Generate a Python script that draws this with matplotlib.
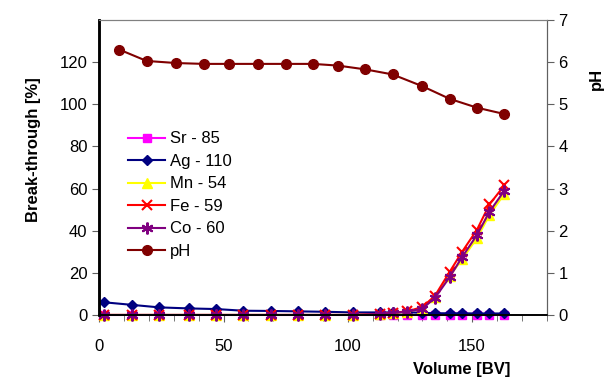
import matplotlib
matplotlib.use("Agg")
import matplotlib.pyplot as plt
from matplotlib.ticker import MultipleLocator

plt.rcParams["font.family"] = ["Liberation Sans", "DejaVu Sans"]

# volumes [BV]
volume = [2, 13, 24, 36, 47, 58, 69, 80, 91, 102, 113, 118, 124, 130, 135, 141, 146, 152, 157, 163]
sr85 = [0.0] * 20
ag110 = [6.0, 4.8, 3.6, 3.1, 2.8, 2.0, 1.9, 1.7, 1.5, 1.2, 1.2, 1.2, 1.3, 1.0, 0.8, 0.8, 0.8, 0.7, 0.7, 0.7]
mn54 = [0, 0, 0, 0, 0, 0, 0, 0, 0, 0, 0.5, 1.0, 1.5, 3.3, 8.5, 18.5, 26.5, 36.5, 47.5, 57.5]
fe59 = [0, 0, 0, 0, 0, 0, 0, 0, 0, 0, 0.5, 1.0, 1.7, 3.8, 9.0, 20.5, 30.0, 40.5, 52.5, 61.5]
co60 = [0, 0, 0, 0, 0, 0, 0, 0, 0, 0, 0.5, 1.0, 1.5, 3.0, 8.0, 18.0, 27.5, 38.0, 49.0, 59.0]

ph_volume = [8, 19, 31, 42, 52, 64, 75, 86, 96, 107, 118, 130, 141, 152, 163]
ph = [6.30, 6.03, 5.98, 5.96, 5.96, 5.96, 5.96, 5.96, 5.92, 5.83, 5.71, 5.43, 5.13, 4.92, 4.77]

fig = plt.figure(figsize=(6.06, 3.79), dpi=100)
ax = fig.add_axes([0.164, 0.169, 0.738, 0.778])
ax2 = ax.twinx()

lw = 1.5
h1, = ax.plot(volume, sr85, color="#ff00ff", marker="s", ms=6, lw=lw, label="Sr - 85", clip_on=False)
h2, = ax.plot(volume, ag110, color="#000080", marker="D", ms=5.5, lw=lw, label="Ag - 110", clip_on=False)
h3, = ax.plot(volume, mn54, color="#ffff00", marker="^", ms=7.5, lw=lw, label="Mn - 54", clip_on=False)
h4, = ax.plot(volume, fe59, color="#ff0000", marker="x", ms=7.5, mew=1.5, lw=lw, label="Fe - 59", clip_on=False)
h5, = ax.plot(volume, co60, color="#800080", marker=(6, 2, 0), ms=8.5, mew=1.5, lw=lw, label="Co - 60", clip_on=False)
h6, = ax2.plot(ph_volume, ph, color="#800000", marker="o", ms=7, lw=lw, label="pH")

ax.set_xlim(0, 180)
ax.set_ylim(0, 140)
ax2.set_ylim(0, 7)
ax.set_yticks(range(0, 121, 20))
ax2.set_yticks(range(0, 8))
ax.xaxis.set_major_locator(MultipleLocator(50))
ax.xaxis.set_minor_locator(MultipleLocator(10))

for a in (ax, ax2):
    a.spines["top"].set_color("#808080")
    a.spines["right"].set_color("#606060")
    a.spines["left"].set_linewidth(1.8)
    a.spines["bottom"].set_linewidth(1.2)
ax.tick_params(labelsize=12, length=5, color="#606060")
ax.tick_params(axis="x", pad=12)
ax.tick_params(axis="x", which="minor", length=4, color="#606060")
ax2.tick_params(labelsize=12, length=5, color="#606060")

ax.set_xlabel("Volume [BV]", fontsize=12, fontweight="bold")
ax.xaxis.set_label_coords(0.81, -0.16)
ax.set_ylabel("Break-through [%]", fontsize=12, fontweight="bold")
ax.yaxis.set_label_coords(-0.13, 0.56)
ax2.set_ylabel("pH", fontsize=12, fontweight="bold", rotation=90)
ax2.yaxis.set_label_coords(1.095, 0.80)

ax.legend(handles=[h1, h2, h3, h4, h5, h6], loc="upper left", bbox_to_anchor=(0.05, 0.645),
          frameon=False, fontsize=12, handlelength=2.2, handletextpad=0.3,
          labelspacing=0.45, borderaxespad=0)

fig.savefig("out.png", dpi=100)
